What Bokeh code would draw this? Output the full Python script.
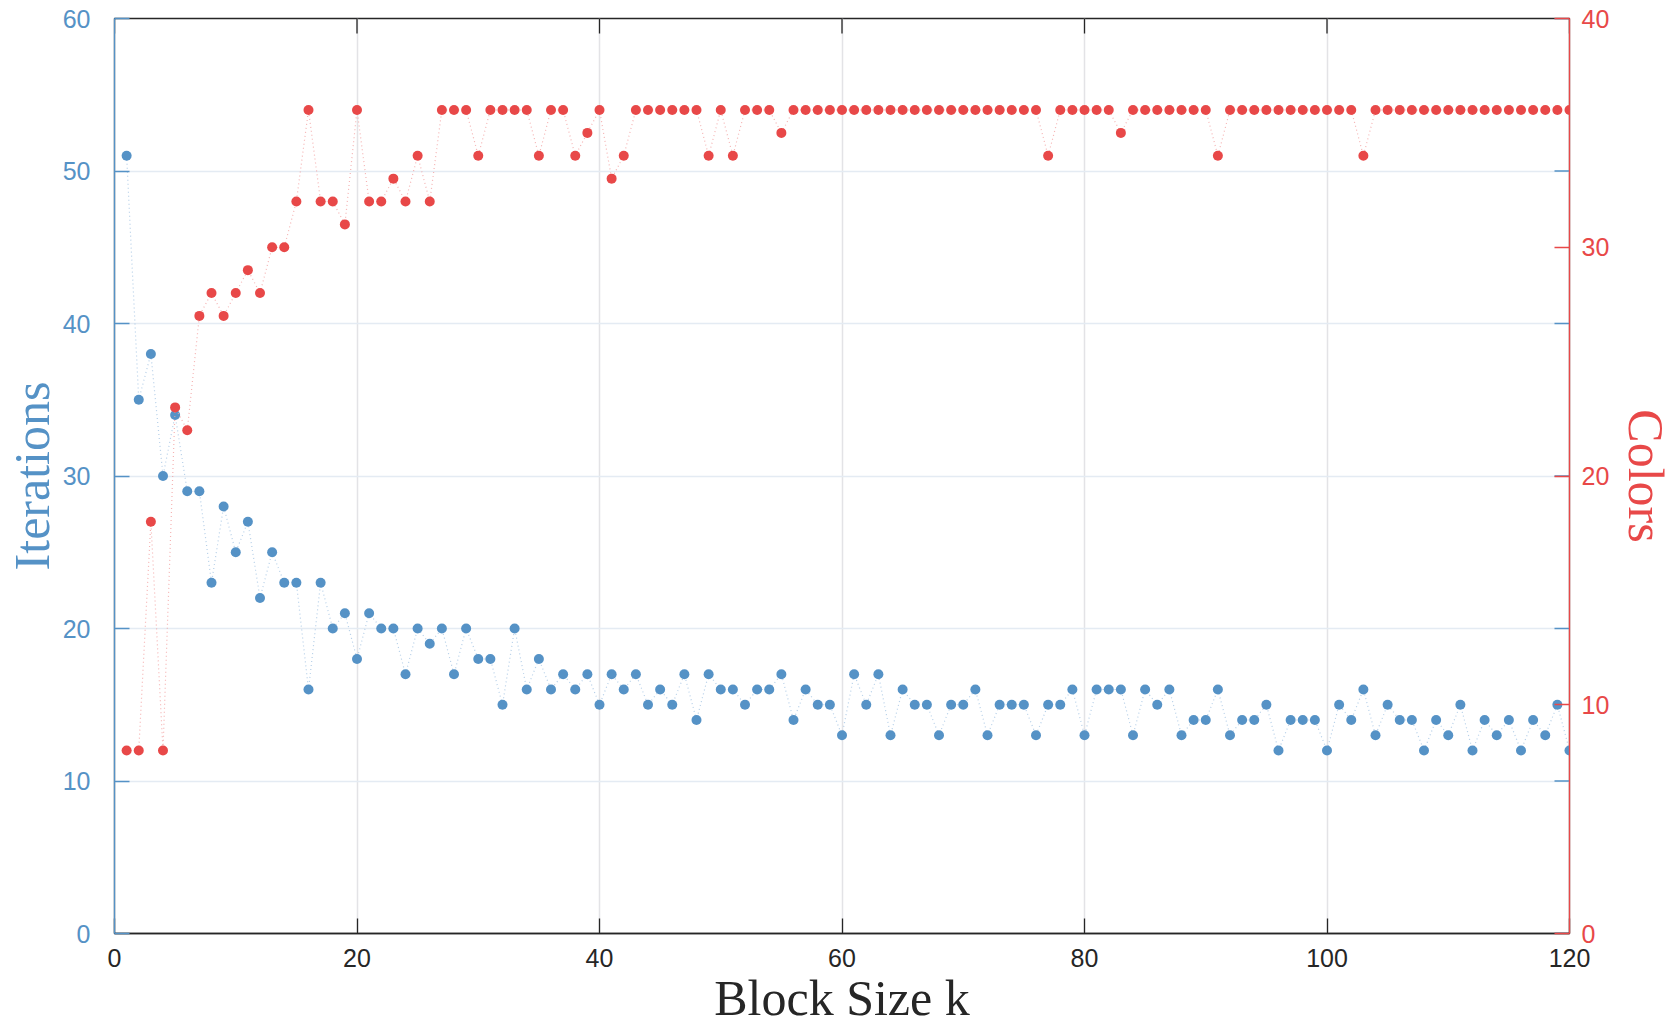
import math

from bokeh.plotting import figure
from bokeh.models import LinearAxis, Range1d, FixedTicker
from bokeh.embed import file_html
from bokeh.resources import INLINE

# Block sizes k = 1..120
block_size = list(range(1, 121))

# Iterations needed for each block size (left axis)
iterations = [
    51, 35, 38, 30, 34, 29, 29, 23, 28, 25,
    27, 22, 25, 23, 23, 16, 23, 20, 21, 18,
    21, 20, 20, 17, 20, 19, 20, 17, 20, 18,
    18, 15, 20, 16, 18, 16, 17, 16, 17, 15,
    17, 16, 17, 15, 16, 15, 17, 14, 17, 16,
    16, 15, 16, 16, 17, 14, 16, 15, 15, 13,
    17, 15, 17, 13, 16, 15, 15, 13, 15, 15,
    16, 13, 15, 15, 15, 13, 15, 15, 16, 13,
    16, 16, 16, 13, 16, 15, 16, 13, 14, 14,
    16, 13, 14, 14, 15, 12, 14, 14, 14, 12,
    15, 14, 16, 13, 15, 14, 14, 12, 14, 13,
    15, 12, 14, 13, 14, 12, 14, 13, 15, 12,
]

# Number of colors used for each block size (right axis)
colors = [
    8, 8, 18, 8, 23, 22, 27, 28, 27, 28,
    29, 28, 30, 30, 32, 36, 32, 32, 31, 36,
    32, 32, 33, 32, 34, 32, 36, 36, 36, 34,
    36, 36, 36, 36, 34, 36, 36, 34, 35, 36,
    33, 34, 36, 36, 36, 36, 36, 36, 34, 36,
    34, 36, 36, 36, 35, 36, 36, 36, 36, 36,
    36, 36, 36, 36, 36, 36, 36, 36, 36, 36,
    36, 36, 36, 36, 36, 36, 34, 36, 36, 36,
    36, 36, 35, 36, 36, 36, 36, 36, 36, 36,
    34, 36, 36, 36, 36, 36, 36, 36, 36, 36,
    36, 36, 34, 36, 36, 36, 36, 36, 36, 36,
    36, 36, 36, 36, 36, 36, 36, 36, 36, 36,
]

x_ticks = [0, 20, 40, 60, 80, 100, 120]
iter_ticks = [0, 10, 20, 30, 40, 50, 60]
color_ticks = [0, 10, 20, 30, 40]

BLUE = "#5592c6"
BLUE_LINE = "#a3c3e2"
RED = "#e84848"
RED_LINE = "#f2a0a0"
INK = "#262626"
TICK_FONT = "Liberation Sans"
LABEL_FONT = "Liberation Serif"
LABEL_SIZE = "50px"
TICK_LEN = 15

p = figure(
    width=1677, height=1028,
    output_backend="svg", toolbar_location=None,
    x_range=Range1d(0, 120), y_range=Range1d(0, 60),
    min_border_left=114, min_border_right=107,
    min_border_top=18, min_border_bottom=94,
    background_fill_color="white", border_fill_color="white",
)
p.outline_line_color = INK
p.outline_line_width = 1.3
p.extra_y_ranges = {"colors": Range1d(0, 40)}

# grid
p.xgrid.ticker = FixedTicker(ticks=x_ticks)
p.ygrid.ticker = FixedTicker(ticks=iter_ticks)
p.xgrid.grid_line_color = "#e3e3e6"
p.ygrid.grid_line_color = "#e4ebf3"
p.xgrid.grid_line_width = 1.5
p.ygrid.grid_line_width = 1.5


def style_axis(ax, color, text_color):
    ax.axis_line_color = color
    ax.axis_line_width = 1.3
    ax.major_tick_line_color = color
    ax.major_tick_line_width = 1.3
    ax.major_tick_in = TICK_LEN
    ax.major_tick_out = 0
    ax.minor_tick_line_color = None
    ax.major_label_text_font = TICK_FONT
    ax.major_label_text_font_size = "25px"
    ax.major_label_text_color = text_color
    ax.axis_label_text_font = LABEL_FONT
    ax.axis_label_text_font_style = "normal"
    ax.axis_label_text_font_size = LABEL_SIZE
    ax.axis_label_text_color = text_color


# bottom axis
xax = p.xaxis[0]
xax.ticker = FixedTicker(ticks=x_ticks)
style_axis(xax, INK, INK)
xax.axis_label = "Block Size k"
xax.major_label_standoff = 15
xax.axis_label_standoff = 0

# left axis: iterations
yax = p.yaxis[0]
yax.ticker = FixedTicker(ticks=iter_ticks)
style_axis(yax, BLUE, BLUE)
yax.axis_label = "Iterations"
yax.major_label_standoff = 24
yax.axis_label_standoff = 0

# right axis: colors
rax = LinearAxis(y_range_name="colors", ticker=FixedTicker(ticks=color_ticks))
style_axis(rax, RED, RED)
rax.axis_label = "Colors"
rax.major_label_standoff = 12
rax.axis_label_standoff = 6
p.add_layout(rax, "right")

# inward ticks along the top edge and mirrored iteration ticks on the right edge
p.ray(x=x_ticks, y=[60] * len(x_ticks), length=TICK_LEN, length_units="screen",
      angle=-math.pi / 2, line_color=INK, line_width=1.3)
p.ray(x=[120] * len(iter_ticks), y=iter_ticks, length=TICK_LEN, length_units="screen",
      angle=math.pi, line_color=BLUE, line_width=1.3)

# iterations series
p.line(block_size, iterations, line_color=BLUE_LINE, line_width=1.2,
       line_dash="1 3", line_alpha=0.8)
p.scatter(block_size, iterations, size=10, fill_color=BLUE, line_color=None)

# colors series
p.line(block_size, colors, y_range_name="colors", line_color=RED_LINE,
       line_width=1.2, line_dash="1 3", line_alpha=0.8)
p.scatter(block_size, colors, y_range_name="colors", size=10,
          fill_color=RED, line_color=None)

with open("out.html", "w") as f:
    f.write(file_html(p, INLINE))
